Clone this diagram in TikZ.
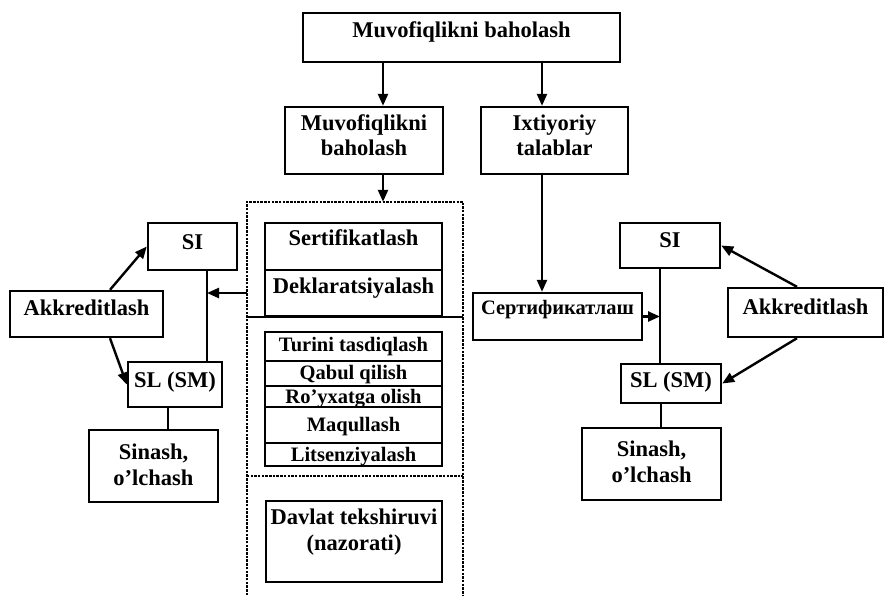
\documentclass[tikz,border=0pt]{standalone}
\usepackage{fontspec}
\setmainfont{Liberation Serif}
\usetikzlibrary{arrows.meta,calc}
\newcommand{\bigfnt}{\bfseries\fontsize{22.5}{25}\selectfont}
\newcommand{\bigfntb}{\bfseries\fontsize{22.5}{26}\selectfont}
\newcommand{\listfnt}{\bfseries\fontsize{20.5}{23}\selectfont}
\newcommand{\cyrfnt}{\bfseries\fontsize{20.5}{22}\selectfont}
\begin{document}
\begin{tikzpicture}[x=1pt,y=-1pt,
  box/.style={draw, line width=2.4pt, inner sep=0pt, align=center, font=\bigfnt, text height=16pt},
  twobox/.style={box, text height=41pt},
  twoboxb/.style={box, font=\bigfntb, text height=42pt},
  lbox/.style={box, font=\listfnt, minimum width=177pt, text height=15pt},
  arr/.style={line width=2.4pt, -{Triangle[length=12pt,width=10pt]}},
  ln/.style={line width=2.4pt},
  dotl/.style={line width=2.4pt, dash pattern=on 2.5pt off 1.2pt}]
\useasboundingbox (0,0) rectangle (885,595);
% top level
\node[box, minimum width=317pt, minimum height=49pt, text depth=16.2pt] (top) at (461.5,37.5) {Muvofiqlikni baholash};
\node[twobox, minimum width=158pt, minimum height=67pt, text depth=11.2pt] (muv) at (364,140.5) {Muvofiqlikni\\baholash};
\node[twobox, minimum width=147pt, minimum height=67pt, text depth=10.2pt] (ixt) at (554.5,140.5) {Ixtiyoriy\\talablar};
\coordinate (xa) at (383,0);
\coordinate (xb) at (542,0);
\draw[arr] (top.south -| xa) -- (muv.north -| xa);
\draw[arr] (top.south -| xb) -- (ixt.north -| xb);
% container
\node[minimum width=216pt, minimum height=393pt, inner sep=0pt] (cont) at (355,398.5) {};
\draw[dotl] (cont.south west) -- (cont.north west) -- (cont.north east) -- (cont.south east);
\draw[arr] (muv.south -| xa) -- (cont.north -| xa);
\coordinate (d1) at (0,317);
\coordinate (d2) at (0,476);
\draw[ln] (cont.west |- d1) -- (cont.east |- d1);
\draw[dotl] (cont.west |- d2) -- (cont.east |- d2);
% inner boxes
\node[box, minimum width=177pt, minimum height=47pt, text depth=18.2pt] (sert) at (353.5,246.5) {Sertifikatlash};
\node[box, minimum width=177pt, minimum height=46pt, text depth=15.2pt] (dekl) at (353.5,293) {Deklaratsiyalash};
\node[lbox, minimum height=29pt, text depth=4.4pt] (turini) at (353.5,346.5) {Turini tasdiqlash};
\node[lbox, minimum height=25pt, text depth=2.4pt] (qabul) at (353.5,373.5) {Qabul qilish};
\node[lbox, minimum height=21pt, text depth=1.4pt] (royx) at (353.5,396.5) {Ro’yxatga olish};
\node[lbox, minimum height=36pt, text depth=1.4pt] (maq) at (353.5,425) {Maqullash};
\node[lbox, minimum height=23pt, text depth=1.4pt] (lits) at (353.5,454.5) {Litsenziyalash};
\node[twoboxb, minimum width=176pt, minimum height=81pt, text depth=24.2pt] (davlat) at (354,541.5) {Davlat tekshiruvi\\(nazorati)};
% left group
\node[box, minimum width=89pt, minimum height=47pt, text depth=10.2pt] (SIL) at (192.5,246.5) {SI};
\node[box, minimum width=153pt, minimum height=46pt, text depth=13.2pt] (AkkL) at (86.5,314) {Akkreditlash};
\node[box, minimum width=94pt, minimum height=45pt, text depth=10.2pt] (SLL) at (175,384.5) {SL (SM)};
\node[twoboxb, minimum width=129pt, minimum height=72pt, text depth=3.2pt] (SinL) at (153.5,466) {Sinash,\\o’lchash};
\coordinate (vx) at (207,0);
\coordinate (yl) at (0,293);
\draw[ln] (SIL.south -| vx) -- (SLL.north -| vx);
\draw[arr] (cont.west |- yl) -- (vx |- yl);
\draw[arr] ([xshift=23.5pt]AkkL.north) -- (SIL.west);
\draw[arr] ([xshift=23.5pt]AkkL.south) -- (SLL.west);
\draw[ln] ([xshift=-7pt]SLL.south) -- ([xshift=-7pt]SLL.south |- SinL.north);
% right group
\node[box, font=\cyrfnt, minimum width=169pt, minimum height=47pt, text depth=20pt] (cyr) at (557.5,316.5) {Сертификатлаш};
\node[box, minimum width=100pt, minimum height=45pt, text depth=12.2pt] (SIR) at (670,245.5) {SI};
\node[box, minimum width=155pt, minimum height=49pt, text depth=12.2pt] (AkkR) at (805.5,312.5) {Akkreditlash};
\node[box, minimum width=100pt, minimum height=39pt, text depth=8.2pt] (SLR) at (671,383.5) {SL (SM)};
\node[twoboxb, minimum width=139pt, minimum height=72pt, text depth=5.2pt] (SinR) at (651.5,464) {Sinash,\\o’lchash};
\coordinate (vxr) at (660,0);
\draw[arr] (ixt.south -| xb) -- (cyr.north -| xb);
\draw[ln] (SIR.south -| vxr) -- (SLR.north -| vxr);
\draw[arr] (cyr.east) -- (vxr |- cyr.east);
\draw[arr] ([xshift=-8.5pt]AkkR.north) -- (SIR.east);
\draw[arr] ([xshift=-8.5pt]AkkR.south) -- (SLR.east);
\draw[ln] ([xshift=-10pt]SLR.south) -- ([xshift=-10pt]SLR.south |- SinR.north);
\end{tikzpicture}
\end{document}
